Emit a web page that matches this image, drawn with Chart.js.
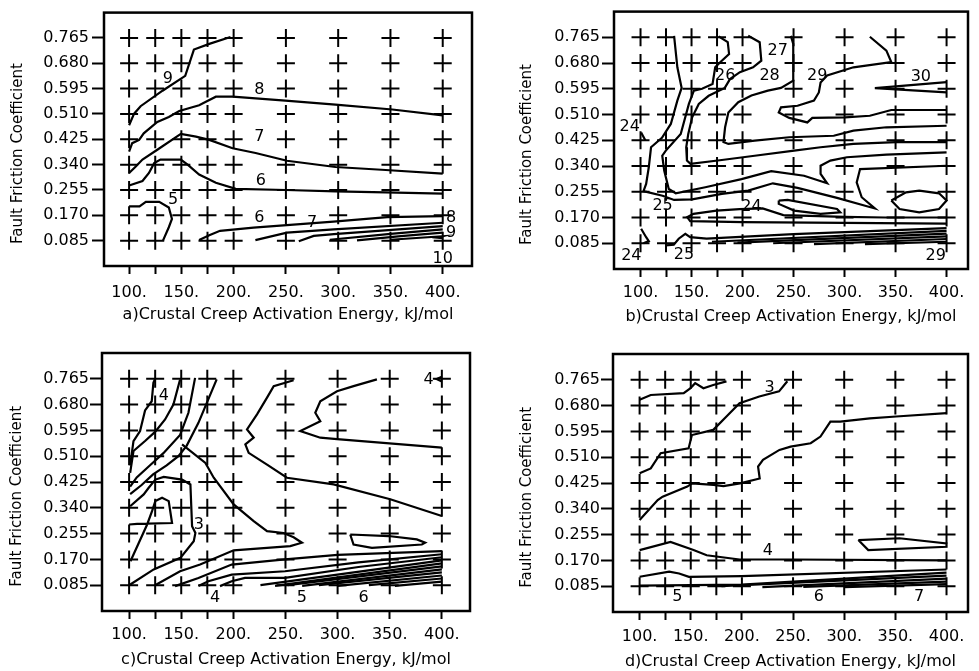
<!DOCTYPE html>
<html>
<head>
<meta charset="utf-8">
<script src="https://cdn.jsdelivr.net/npm/chart.js@4.4.1/dist/chart.umd.min.js"></script>
<style>
  body { margin: 0; background: #fff; width: 979px; height: 671px; position: relative; overflow: hidden; }
  canvas { position: absolute; }
</style>
</head>
<body>
<canvas id="pa" width="490" height="330" style="left:0;top:0"></canvas>
<canvas id="pb" width="489" height="330" style="left:490px;top:0"></canvas>
<canvas id="pc" width="490" height="341" style="left:0;top:330px"></canvas>
<canvas id="pd" width="489" height="341" style="left:490px;top:330px"></canvas>
<script>
// grid of model runs (the "+" marks) and tick labels
const energyGrid = [100, 125, 150, 175, 200, 250, 300, 350, 400];
const frictionGrid = [0.085, 0.17, 0.255, 0.34, 0.425, 0.51, 0.595, 0.68, 0.765];
const energyLabels = ["100.", "", "150.", "", "200.", "250.", "300.", "350.", "400."];
const frictionLabels = ["0.085", "0.170", "0.255", "0.340", "0.425", "0.510", "0.595", "0.680", "0.765"];

// contour lines, [energy, friction]
const panelALines = [
  [[100,0.472],[104.8,0.511],[111,0.536],[132,0.588],[153.7,0.638],[162,0.726],[176.7,0.745],[197,0.768]],
  [[100,0.384],[103,0.412],[109.6,0.423],[114,0.445],[127,0.483],[138,0.5],[148,0.52],[167,0.539],[173,0.55],[183,0.568],[199,0.568],[249.5,0.555],[297.4,0.541],[351.8,0.525],[400,0.505]],
  [[100,0.312],[106.4,0.334],[112.8,0.357],[127,0.39],[149.5,0.443],[164,0.434],[176.7,0.423],[199,0.395],[221,0.379],[251,0.353],[297.4,0.332],[345.4,0.322],[400,0.31]],
  [[100,0.27],[112.8,0.285],[119,0.312],[124,0.345],[130,0.357],[149.5,0.357],[156,0.34],[167,0.307],[183,0.279],[202,0.259],[250,0.255],[297.4,0.25],[345,0.247],[400,0.243]],
  [[100,0.2],[110,0.2],[116,0.215],[128.8,0.215],[138,0.196],[141,0.158],[138,0.13],[132.5,0.086]],
  [[167,0.087],[176.7,0.103],[187,0.118],[219,0.129],[295.5,0.149],[347,0.164],[400,0.167]],
  [[220.8,0.087],[251,0.112],[295.8,0.123],[400,0.145]],
  [[262.3,0.083],[276.6,0.101],[295.8,0.107],[400,0.134]],
  [[292,0.088],[350,0.108],[400,0.123]],
  [[318,0.086],[360,0.1],[400,0.112]],
  [[350,0.088],[400,0.1],[395,0.095],[400,0.093]]
];
const panelALabels = [
  ["9",137,0.628],["8",224.6,0.59],["7",224.6,0.434],["6",226,0.285],["5",142,0.222],
  ["6",224.6,0.163],["7",275,0.145],["8",408,0.16],["9",408,0.11],["10",400,0.025]
];

const panelBLines = [
  [[132.9,0.77],[136.1,0.666],[140.3,0.598],[136.1,0.556],[129.7,0.479],[121,0.433],[110.3,0.402],[108.1,0.336],[105.5,0.281],[102.9,0.257],[121.6,0.242],[132.9,0.228],[150.6,0.23],[179.7,0.248],[205.5,0.259],[229.7,0.283],[253.9,0.268],[292.6,0.235],[329.7,0.2],[316.8,0.237],[311.9,0.286],[315.2,0.33],[400,0.341]],
  [[176.5,0.768],[185.5,0.749],[186.8,0.71],[178.1,0.683],[173.2,0.666],[170.6,0.611],[160.3,0.595],[152.3,0.589],[147.4,0.545],[139.4,0.446],[124.8,0.391],[121.3,0.374],[123.2,0.325],[127.7,0.264],[134.5,0.25],[163.5,0.27],[199,0.297],[228.1,0.323],[260.3,0.308],[282.9,0.283],[276.5,0.314],[276.5,0.341],[286.1,0.358],[302.3,0.369],[341,0.378],[400,0.385]],
  [[205.5,0.77],[216.8,0.749],[218.4,0.688],[210.3,0.666],[197.4,0.65],[187.7,0.627],[182.6,0.598],[166.8,0.572],[157.1,0.545],[150.6,0.501],[146.8,0.446],[144.8,0.402],[145.5,0.358],[149,0.347],[179.7,0.36],[211.9,0.374],[250.6,0.391],[276.5,0.402],[308.7,0.413],[350.6,0.419],[400,0.419]],
  [[247.4,0.77],[249.7,0.743],[249.7,0.622],[237.7,0.598],[224.8,0.589],[208.7,0.573],[195.8,0.551],[186.1,0.517],[182.9,0.468],[181.3,0.419],[186.1,0.413],[211.9,0.424],[245.8,0.435],[289.4,0.44],[308.7,0.457],[341,0.468],[400,0.473]],
  [[324.8,0.767],[341,0.721],[345.8,0.683],[308.7,0.666],[282.9,0.639],[276.5,0.616],[274.8,0.583],[270,0.556],[253.9,0.539],[237.7,0.534],[235.5,0.517],[245.8,0.499],[263.5,0.484],[268.4,0.499],[300.6,0.501],[324.8,0.506],[345.8,0.525],[400,0.525]],
  [[400,0.617],[329.7,0.597],[400,0.583]],
  [[100.6,0.451],[104.8,0.424]],
  [[100.6,0.133],[105.5,0.105],[108.1,0.092],[102.9,0.085]],
  [[400,0.17],[340,0.17],[300,0.172],[240,0.178],[219.7,0.2],[197.1,0.198],[174.5,0.193],[151.9,0.182],[145.8,0.171],[148.7,0.158],[200,0.155],[300,0.152],[400,0.15]],
  [[235.5,0.226],[244.2,0.228],[292.6,0.198],[295.8,0.187],[276.5,0.182],[250.6,0.193],[235.5,0.215],[235.5,0.226]],
  [[345.8,0.226],[360.3,0.253],[373.2,0.259],[392.6,0.25],[400,0.226],[392.6,0.198],[373.2,0.187],[353.9,0.198],[345.8,0.226]],
  [[124.5,0.078],[132.6,0.08],[137.4,0.1],[143.9,0.116],[148.7,0.105],[164.8,0.1],[250,0.115],[400,0.135]],
  [[170,0.09],[400,0.126]],
  [[195,0.087],[400,0.117]],
  [[230,0.085],[400,0.108]],
  [[270,0.082],[400,0.099]],
  [[320,0.082],[400,0.09]]
];
const panelBLabels = [
  ["24",89.4,0.468],["25",121.6,0.21],["24",208.7,0.204],["26",183,0.639],["27",234.5,0.721],
  ["28",226.5,0.639],["29",273.2,0.639],["30",374.8,0.635],["24",91,0.044],["25",142.6,0.048],["29",389.4,0.044]
];

const panelCLines = [
  [[101,0.48],[104.2,0.56],[110.5,0.593],[115.3,0.661],[121.7,0.691],[123.3,0.752],[125,0.765]],
  [[101,0.455],[104.2,0.527],[115.3,0.56],[124.9,0.59],[134.5,0.631],[142.5,0.68],[148.9,0.763]],
  [[101,0.41],[107.3,0.44],[120.1,0.48],[132.9,0.52],[148.9,0.58],[156.9,0.653],[163.3,0.768]],
  [[101,0.385],[112,0.415],[123,0.45],[136,0.48],[147.3,0.51],[155.3,0.545],[166.5,0.62],[184,0.763]],
  [[100,0.085],[123.6,0.137],[149.2,0.175],[162,0.23],[163.6,0.257],[160.4,0.279],[158.8,0.417],[150.8,0.433],[133.2,0.442],[125.2,0.433],[118.8,0.406],[114,0.384],[101,0.345]],
  [[100,0.285],[107.7,0.287],[141.2,0.29],[138,0.362],[131.6,0.373],[125.2,0.362],[122,0.329],[117.3,0.285],[101.3,0.164]],
  [[150.8,0.549],[173.2,0.488],[181.2,0.439],[200.3,0.351],[219.5,0.296],[232.3,0.263],[248.2,0.257],[257.8,0.243],[265.8,0.225],[254.6,0.214],[232.3,0.208],[200.3,0.2],[168.1,0.153],[148.9,0.131],[124.9,0.085]],
  [[144.1,0.082],[166.5,0.109],[198.4,0.153],[249.5,0.17],[300,0.185],[400,0.197]],
  [[166.5,0.082],[176,0.098],[198.4,0.12],[249.5,0.131],[320,0.16],[400,0.187]],
  [[187.2,0.082],[198.4,0.098],[211.2,0.109],[249.5,0.109],[320,0.145],[400,0.177]],
  [[226,0.085],[400,0.167]],
  [[240,0.083],[400,0.157]],
  [[252,0.085],[400,0.147]],
  [[266,0.083],[400,0.137]],
  [[282,0.085],[400,0.127]],
  [[300,0.083],[400,0.117]],
  [[330,0.085],[400,0.107]],
  [[355,0.083],[400,0.097]],
  [[257.8,0.76],[238.7,0.741],[232.3,0.703],[222.7,0.648],[213.1,0.598],[219.5,0.571],[211.5,0.549],[214.7,0.521],[232.3,0.482],[251.4,0.439],[296.2,0.417],[350.5,0.368],[400,0.313]],
  [[337.7,0.763],[315.3,0.741],[299.4,0.724],[283.4,0.691],[278.6,0.653],[283.4,0.625],[264.2,0.593],[283.4,0.571],[299.4,0.566],[400,0.538]],
  [[312.1,0.252],[315.3,0.219],[332.9,0.208],[380.8,0.219],[384,0.225],[376,0.236],[348.9,0.247],[312.1,0.252]],
  [[400,0.772],[395,0.764],[400,0.756]]
];
const panelCLabels = [
  ["4",133.2,0.708],["3",166.8,0.285],["4",182.4,0.043],["5",265.8,0.043],["6",324.9,0.043],["4",387.2,0.76]
];

const panelDLines = [
  [[100,0.699],[110.9,0.715],[143.1,0.721],[149.5,0.737],[154.3,0.754],[162.4,0.737],[172,0.748],[184.9,0.76]],
  [[100,0.457],[110.9,0.473],[120.6,0.523],[147.9,0.539],[151.1,0.583],[172,0.6],[184.9,0.644],[197.7,0.688],[217,0.71],[236.3,0.727],[244.4,0.76]],
  [[100,0.303],[117.7,0.369],[122.5,0.38],[146.6,0.413],[151.4,0.424],[172.3,0.419],[182,0.415],[198.1,0.424],[217.4,0.44],[215.8,0.479],[220.6,0.501],[236.7,0.534],[247.6,0.545],[267.2,0.556],[276.8,0.578],[286.5,0.627],[296.1,0.627],[325.1,0.638],[350.8,0.644],[400,0.655]],
  [[313.8,0.237],[323.5,0.204],[400,0.215],[400,0.226],[354,0.243],[313.8,0.237]],
  [[100,0.204],[130.2,0.231],[152.7,0.204],[165.6,0.187],[197.7,0.173],[249.2,0.173],[400,0.17]],
  [[100,0.116],[128.9,0.133],[138.6,0.127],[148.2,0.116],[199.7,0.118],[400,0.14]],
  [[100,0.087],[200,0.09],[400,0.13]],
  [[180,0.085],[400,0.12]],
  [[220,0.082],[400,0.11]],
  [[260,0.083],[400,0.1]],
  [[300,0.082],[400,0.092]]
];
const panelDLabels = [
  ["3",227,0.737],["4",225.4,0.202],["5",137,0.05],["6",275.2,0.05],["7",373.3,0.05]
];

Chart.defaults.font.family = '"DejaVu Sans", sans-serif';
Chart.defaults.color = "#000";

const crossPoints = [];
energyGrid.forEach(e => frictionGrid.forEach(f => crossPoints.push([e, f])));

// box around the plot area
const framePlugin = {
  id: "frame",
  afterDraw(chart) {
    const { ctx, chartArea: a } = chart;
    ctx.save();
    ctx.lineWidth = 2.5;
    ctx.strokeStyle = "#000";
    ctx.strokeRect(a.left, a.top, a.right - a.left, a.bottom - a.top);
    ctx.restore();
  }
};

// contour values written next to the lines
const labelPlugin = {
  id: "contourLabels",
  afterDatasetsDraw(chart, args, opts) {
    const { ctx, scales: { x, y } } = chart;
    ctx.save();
    ctx.font = '16px "DejaVu Sans"';
    ctx.fillStyle = "#000";
    ctx.textAlign = "center";
    ctx.textBaseline = "middle";
    opts.items.forEach(([t, vx, vy]) => ctx.fillText(t, x.getPixelForValue(vx), y.getPixelForValue(vy)));
    ctx.restore();
  }
};

function makePanel(id, letter, lines, labels, box) {
  const datasets = [{
    data: crossPoints,
    pointStyle: "cross",
    pointRadius: 9,
    pointBorderWidth: 2,
    borderColor: "#000",
    showLine: false
  }];
  lines.forEach(l => datasets.push({
    data: l,
    showLine: true,
    pointRadius: 0,
    borderColor: "#000",
    borderWidth: 2.2,
    tension: 0
  }));

  new Chart(document.getElementById(id), {
    type: "scatter",
    data: { datasets },
    plugins: [framePlugin, labelPlugin],
    options: {
      responsive: false,
      animation: false,
      layout: { padding: { top: box.top, right: box.right, left: 0, bottom: 0 } },
      plugins: {
        legend: { display: false },
        tooltip: { enabled: false },
        contourLabels: { items: labels }
      },
      scales: {
        x: {
          type: "linear",
          min: box.xMin,
          max: box.xMax,
          afterBuildTicks: s => { s.ticks = energyGrid.map(v => ({ value: v })); },
          afterFit: s => { s.height = box.xHeight; },
          ticks: {
            autoSkip: false, maxRotation: 0, padding: box.xLabelPad,
            font: { size: 16 },
            callback: (v, i) => energyLabels[i]
          },
          grid: { drawOnChartArea: false, tickLength: 8, tickWidth: 2, color: "#000" },
          border: { display: false },
          title: {
            display: true,
            text: letter + ")Crustal Creep Activation Energy, kJ/mol",
            font: { size: 16 },
            padding: { top: 0, bottom: box.xTitlePad }
          }
        },
        y: {
          min: 0,
          max: 0.85,
          afterBuildTicks: s => { s.ticks = frictionGrid.map(v => ({ value: v })); },
          afterFit: s => { s.width = box.yWidth; },
          ticks: {
            autoSkip: false, padding: box.yLabelPad,
            font: { size: 16 },
            callback: (v, i) => frictionLabels[i]
          },
          grid: { drawOnChartArea: false, tickLength: 12, tickWidth: 2, color: "#000" },
          border: { display: false },
          title: {
            display: true,
            text: "Fault Friction Coefficient" + "\u00a0".repeat(6),
            font: { size: 15 },
            padding: { top: box.yTitlePad, bottom: 0 }
          }
        }
      }
    }
  });
}

makePanel("pa", "a", panelALines, panelALabels,
  { top: 8, right: 18, yWidth: 104, xHeight: 64, yLabelPad: 3, yTitlePad: 9, xLabelPad: 9.4, xTitlePad: 5.4, xMin: 76, xMax: 428 });
makePanel("pb", "b", panelBLines, panelBLabels,
  { top: 10, right: 6, yWidth: 124, xHeight: 61, yLabelPad: 2, yTitlePad: 28.5, xLabelPad: 6.4, xTitlePad: 3.4, xMin: 74, xMax: 421 });
makePanel("pc", "c", panelCLines, panelCLabels,
  { top: 23, right: 20, yWidth: 102, xHeight: 60, yLabelPad: 1, yTitlePad: 8, xLabelPad: 6.4, xTitlePad: 1.4, xMin: 74, xMax: 427 });
makePanel("pd", "d", panelDLines, panelDLabels,
  { top: 24, right: 6, yWidth: 123, xHeight: 59, yLabelPad: 1, yTitlePad: 27.7, xLabelPad: 7.4, xTitlePad: 0, xMin: 74, xMax: 421 });
</script>
</body>
</html>
